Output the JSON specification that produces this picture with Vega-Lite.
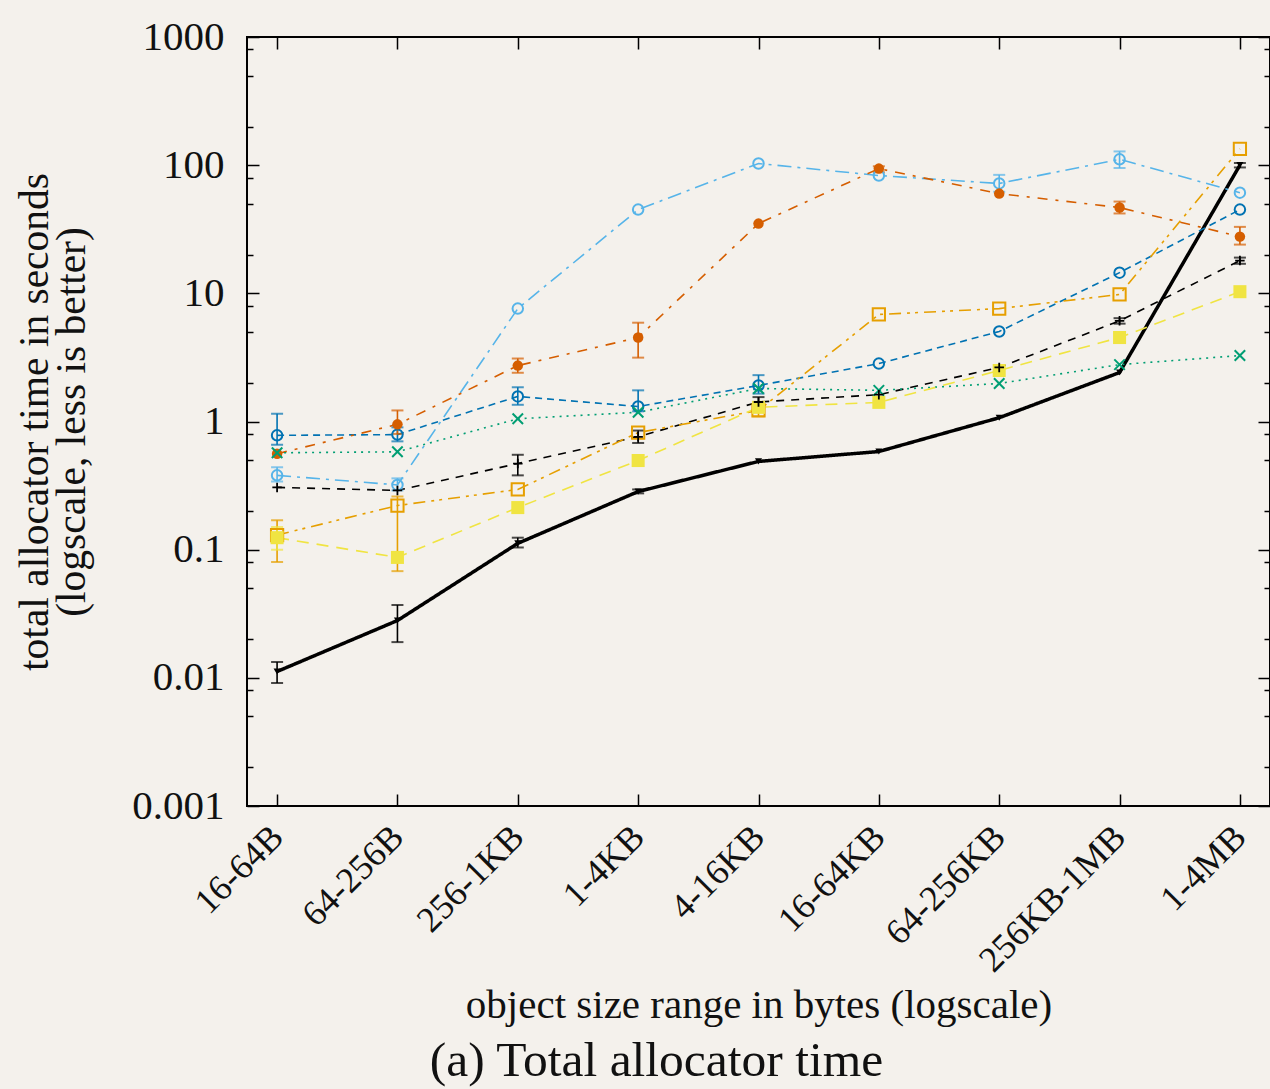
{
  "$schema": "https://vega.github.io/schema/vega-lite/v6.json",
  "width": 1023,
  "height": 769,
  "autosize": {"type": "none"},
  "padding": {"left": 247, "top": 37, "right": 0, "bottom": 283},
  "background": "#f4f1ec",
  "config": {
    "view": {"stroke": "#000000", "strokeWidth": 2, "fill": "#f4f1ec"},
    "font": "Liberation Serif",
    "axis": {"domain": false, "ticks": false, "grid": true, "gridColor": "#000000", "gridOpacity": 1, "gridWidth": 1.5, "labelColor": "#111111", "titleColor": "#111111", "labelFont": "Liberation Serif", "titleFont": "Liberation Serif", "titleFontWeight": "normal"}
  },
  "title": {"text": "(a) Total allocator time", "orient": "bottom", "fontSize": 49.5, "fontWeight": "normal", "font": "Liberation Serif", "color": "#111111", "offset": 12, "dx": -102},
  "data": {"values": [
    {"size": "16-64B", "series": "A", "value": 0.0112, "lo": 0.0091, "hi": 0.0133},
    {"size": "64-256B", "series": "A", "value": 0.028, "lo": 0.019, "hi": 0.037},
    {"size": "256-1KB", "series": "A", "value": 0.112, "lo": 0.104, "hi": 0.124},
    {"size": "1-4KB", "series": "A", "value": 0.284, "lo": 0.275, "hi": 0.295},
    {"size": "4-16KB", "series": "A", "value": 0.488},
    {"size": "16-64KB", "series": "A", "value": 0.583},
    {"size": "64-256KB", "series": "A", "value": 1.07},
    {"size": "256KB-1MB", "series": "A", "value": 2.41},
    {"size": "1-4MB", "series": "A", "value": 100, "lo": 96, "hi": 104},

    {"size": "16-64B", "series": "B", "value": 0.306},
    {"size": "64-256B", "series": "B", "value": 0.29},
    {"size": "256-1KB", "series": "B", "value": 0.47, "lo": 0.38, "hi": 0.55},
    {"size": "1-4KB", "series": "B", "value": 0.76, "lo": 0.68, "hi": 0.85},
    {"size": "4-16KB", "series": "B", "value": 1.42, "lo": 1.35, "hi": 1.55},
    {"size": "16-64KB", "series": "B", "value": 1.62},
    {"size": "64-256KB", "series": "B", "value": 2.64},
    {"size": "256KB-1MB", "series": "B", "value": 6.1, "lo": 5.8, "hi": 6.4},
    {"size": "1-4MB", "series": "B", "value": 18, "lo": 17, "hi": 19},

    {"size": "16-64B", "series": "C", "value": 0.78, "lo": 0.66, "hi": 1.15},
    {"size": "64-256B", "series": "C", "value": 0.79, "lo": 0.7, "hi": 0.9},
    {"size": "256-1KB", "series": "C", "value": 1.57, "lo": 1.35, "hi": 1.85},
    {"size": "1-4KB", "series": "C", "value": 1.31, "lo": 1.2, "hi": 1.75},
    {"size": "4-16KB", "series": "C", "value": 1.91, "lo": 1.65, "hi": 2.3},
    {"size": "16-64KB", "series": "C", "value": 2.83},
    {"size": "64-256KB", "series": "C", "value": 5.04},
    {"size": "256KB-1MB", "series": "C", "value": 14.5},
    {"size": "1-4MB", "series": "C", "value": 45},

    {"size": "16-64B", "series": "D", "value": 0.38, "lo": 0.34, "hi": 0.44},
    {"size": "64-256B", "series": "D", "value": 0.32, "lo": 0.29, "hi": 0.36},
    {"size": "256-1KB", "series": "D", "value": 7.6},
    {"size": "1-4KB", "series": "D", "value": 45},
    {"size": "4-16KB", "series": "D", "value": 103},
    {"size": "16-64KB", "series": "D", "value": 83},
    {"size": "64-256KB", "series": "D", "value": 72, "lo": 62, "hi": 84},
    {"size": "256KB-1MB", "series": "D", "value": 111, "lo": 95, "hi": 128},
    {"size": "1-4MB", "series": "D", "value": 61},

    {"size": "16-64B", "series": "E", "value": 0.56},
    {"size": "64-256B", "series": "E", "value": 0.95, "lo": 0.8, "hi": 1.22},
    {"size": "256-1KB", "series": "E", "value": 2.73, "lo": 2.4, "hi": 3.1},
    {"size": "1-4KB", "series": "E", "value": 4.52, "lo": 3.15, "hi": 5.9},
    {"size": "4-16KB", "series": "E", "value": 35},
    {"size": "16-64KB", "series": "E", "value": 94, "lo": 88, "hi": 98},
    {"size": "64-256KB", "series": "E", "value": 60},
    {"size": "256KB-1MB", "series": "E", "value": 46.7, "lo": 42, "hi": 52},
    {"size": "1-4MB", "series": "E", "value": 27.7, "lo": 24, "hi": 33},

    {"size": "16-64B", "series": "F", "value": 0.57},
    {"size": "64-256B", "series": "F", "value": 0.58},
    {"size": "256-1KB", "series": "F", "value": 1.05},
    {"size": "1-4KB", "series": "F", "value": 1.18},
    {"size": "4-16KB", "series": "F", "value": 1.81},
    {"size": "16-64KB", "series": "F", "value": 1.75},
    {"size": "64-256KB", "series": "F", "value": 1.98},
    {"size": "256KB-1MB", "series": "F", "value": 2.78},
    {"size": "1-4MB", "series": "F", "value": 3.27},

    {"size": "16-64B", "series": "G", "value": 0.13, "lo": 0.08, "hi": 0.17},
    {"size": "64-256B", "series": "G", "value": 0.221, "lo": 0.068, "hi": 0.26},
    {"size": "256-1KB", "series": "G", "value": 0.295},
    {"size": "1-4KB", "series": "G", "value": 0.82},
    {"size": "4-16KB", "series": "G", "value": 1.22, "lo": 1.1, "hi": 1.35},
    {"size": "16-64KB", "series": "G", "value": 6.84},
    {"size": "64-256KB", "series": "G", "value": 7.6},
    {"size": "256KB-1MB", "series": "G", "value": 9.8},
    {"size": "1-4MB", "series": "G", "value": 134},

    {"size": "16-64B", "series": "H", "value": 0.124, "lo": 0.1, "hi": 0.15},
    {"size": "64-256B", "series": "H", "value": 0.087},
    {"size": "256-1KB", "series": "H", "value": 0.213},
    {"size": "1-4KB", "series": "H", "value": 0.496},
    {"size": "4-16KB", "series": "H", "value": 1.29},
    {"size": "16-64KB", "series": "H", "value": 1.41},
    {"size": "64-256KB", "series": "H", "value": 2.5},
    {"size": "256KB-1MB", "series": "H", "value": 4.52},
    {"size": "1-4MB", "series": "H", "value": 10.3}
  ]},
  "layer": [
    {
      "mark": {"type": "line", "clip": true},
      "encoding": {
        "x": {"field": "size", "type": "ordinal", "scale": {"type": "point", "domain": ["16-64B", "64-256B", "256-1KB", "1-4KB", "4-16KB", "16-64KB", "64-256KB", "256KB-1MB", "1-4MB"], "padding": 0.25},
          "axis": {"orient": "bottom", "labelAngle": -45, "labelAlign": "right", "labelBaseline": "middle", "labelFontSize": 36, "labelPadding": 25, "labelLimit": 0, "gridDash": [12, 745, 12, 1000], "title": "object size range in bytes (logscale)", "titleFontSize": 41, "titlePadding": 7}},
        "y": {"field": "value", "type": "quantitative", "scale": {"type": "log", "domain": [0.001, 1000], "nice": false},
          "axis": {"orient": "left", "values": [0.001, 0.002, 0.005, 0.008, 0.01, 0.02, 0.05, 0.08, 0.1, 0.2, 0.5, 0.8, 1, 2, 5, 8, 10, 20, 50, 80, 100, 200, 500, 800, 1000],
            "labelExpr": "abs(log(datum.value)/LN10 - round(log(datum.value)/LN10)) < 0.001 ? (datum.value >= 1 ? format(datum.value, 'd') : format(datum.value, '')) : ''",
            "gridDash": {"condition": {"test": "abs(log(datum.value)/LN10 - round(log(datum.value)/LN10)) < 0.001", "value": [12, 999, 12, 100]}, "value": [6, 1011, 6, 100]},
            "labelFontSize": 41, "labelPadding": 23, "labelBaseline": "middle",
            "title": ["total allocator time in seconds", "(logscale, less is better)"], "titleFontSize": 41.5, "titleLineHeight": 37, "titlePadding": 38}},
        "color": {"field": "series", "type": "nominal", "legend": null, "scale": {"domain": ["A", "B", "C", "D", "E", "F", "G", "H"], "range": ["#000000", "#000000", "#0072B2", "#56B4E9", "#D55E00", "#009E73", "#E69F00", "#F0E442"]}},
        "strokeDash": {"field": "series", "type": "nominal", "legend": null, "scale": {"domain": ["A", "B", "C", "D", "E", "F", "G", "H"], "range": [[1, 0], [8, 7], [7, 5], [14, 6, 3, 6], [10, 8, 3, 8], [2, 5], [12, 6, 3, 5, 3, 6], [12, 8]]}},
        "strokeWidth": {"condition": {"test": "datum.series === 'A'", "value": 3.5}, "value": 1.6},
        "detail": {"field": "series"}
      }
    },
    {
      "transform": [{"filter": "isValid(datum.lo)"}],
      "mark": {"type": "rule", "strokeWidth": 1.6},
      "encoding": {
        "x": {"field": "size", "type": "ordinal"},
        "y": {"field": "lo", "type": "quantitative"},
        "y2": {"field": "hi"},
        "color": {"field": "series", "type": "nominal", "legend": null},
        "strokeWidth": {"condition": {"test": "datum.series === 'A'", "value": 2.5}, "value": 1.4}
      }
    },
    {
      "transform": [{"filter": "isValid(datum.lo)"}],
      "mark": {"type": "tick", "orient": "horizontal", "size": 12, "thickness": 2},
      "encoding": {
        "x": {"field": "size", "type": "ordinal"},
        "y": {"field": "lo", "type": "quantitative"},
        "color": {"field": "series", "type": "nominal", "legend": null}
      }
    },
    {
      "transform": [{"filter": "isValid(datum.hi)"}],
      "mark": {"type": "tick", "orient": "horizontal", "size": 12, "thickness": 2},
      "encoding": {
        "x": {"field": "size", "type": "ordinal"},
        "y": {"field": "hi", "type": "quantitative"},
        "color": {"field": "series", "type": "nominal", "legend": null}
      }
    },
    {
      "transform": [{"filter": "datum.series === 'C' || datum.series === 'D'"}],
      "mark": {"type": "point", "shape": "circle", "filled": false, "size": 110, "strokeWidth": 2, "opacity": 1},
      "encoding": {
        "x": {"field": "size", "type": "ordinal"},
        "y": {"field": "value", "type": "quantitative"},
        "color": {"field": "series", "type": "nominal", "legend": null}
      }
    },
    {
      "transform": [{"filter": "datum.series === 'E'"}],
      "mark": {"type": "point", "shape": "circle", "filled": true, "size": 110, "opacity": 1},
      "encoding": {
        "x": {"field": "size", "type": "ordinal"},
        "y": {"field": "value", "type": "quantitative"},
        "color": {"field": "series", "type": "nominal", "legend": null}
      }
    },
    {
      "transform": [{"filter": "datum.series === 'G'"}],
      "mark": {"type": "point", "shape": "square", "filled": false, "size": 150, "strokeWidth": 2, "opacity": 1},
      "encoding": {
        "x": {"field": "size", "type": "ordinal"},
        "y": {"field": "value", "type": "quantitative"},
        "color": {"field": "series", "type": "nominal", "legend": null}
      }
    },
    {
      "transform": [{"filter": "datum.series === 'H'"}],
      "mark": {"type": "point", "shape": "square", "filled": true, "size": 170, "opacity": 1},
      "encoding": {
        "x": {"field": "size", "type": "ordinal"},
        "y": {"field": "value", "type": "quantitative"},
        "color": {"field": "series", "type": "nominal", "legend": null}
      }
    },
    {
      "transform": [{"filter": "datum.series === 'F'"}],
      "mark": {"type": "point", "shape": "M-1,-1L1,1M-1,1L1,-1", "filled": false, "size": 110, "strokeWidth": 2, "opacity": 1},
      "encoding": {
        "x": {"field": "size", "type": "ordinal"},
        "y": {"field": "value", "type": "quantitative"},
        "color": {"field": "series", "type": "nominal", "legend": null}
      }
    },
    {
      "transform": [{"filter": "datum.series === 'B'"}],
      "mark": {"type": "point", "shape": "M-1,0L1,0M0,-1L0,1", "filled": false, "size": 90, "strokeWidth": 1.8, "opacity": 1},
      "encoding": {
        "x": {"field": "size", "type": "ordinal"},
        "y": {"field": "value", "type": "quantitative"},
        "color": {"field": "series", "type": "nominal", "legend": null}
      }
    },
    {
      "transform": [{"filter": "datum.series === 'A'"}],
      "mark": {"type": "point", "shape": "triangle-down", "filled": true, "size": 50, "opacity": 1},
      "encoding": {
        "x": {"field": "size", "type": "ordinal"},
        "y": {"field": "value", "type": "quantitative"},
        "color": {"field": "series", "type": "nominal", "legend": null}
      }
    }
  ]
}
